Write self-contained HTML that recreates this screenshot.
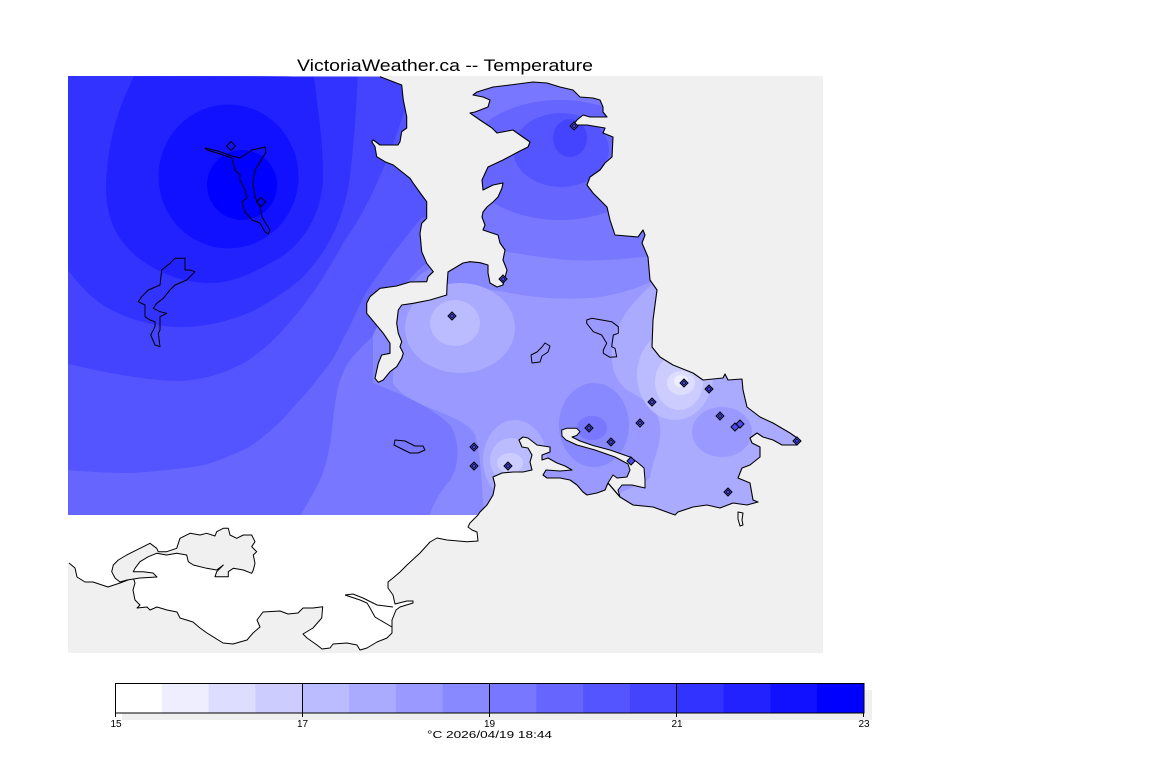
<!DOCTYPE html>
<html><head><meta charset="utf-8"><style>
html,body{margin:0;padding:0;background:#fff;}
svg{display:block;}
text{font-family:"Liberation Sans",sans-serif;}
</style></head><body>
<svg width="1152" height="768" viewBox="0 0 1152 768" xmlns="http://www.w3.org/2000/svg">
<defs>
<clipPath id="land"><path d="M68,76 L380,76.7 L401.7,85 L403.3,100 L406.7,116.7 L406.7,128 L401.7,131.7 L400,141.7 L398,145 L380,145 L373.3,140 L371.7,141.7 L375,146.7 L376.7,156.7 L385,161.7 L393.3,165 L410,178.3 L413.3,183.3 L421.7,195 L426.7,201.7 L426.7,218.3 L421.7,223.3 L420,233.3 L421.7,251.7 L426.7,263.3 L433.3,271.7 L428,276.7 L426.7,281.7 L410,282 L396.7,286 L380,288.3 L370,296.7 L366.7,303.3 L366.7,313.3 L375,323.3 L383.3,333.3 L390,343.3 L390,353.3 L381.7,355 L378.3,363.3 L375,378.3 L378.3,382.3 L383.3,380 L390,371.7 L396.7,366.7 L401.7,358.3 L403.3,353.3 L400,346.7 L401.7,341.7 L398.3,333.3 L396.7,323.3 L398.3,310 L401.7,305 L413.3,303.3 L430,300 L446.7,295 L447,286 L448,272 L463,263 L470,261.7 L480,262.7 L488,265 L488,273 L490,283 L497,287 L503,285 L507,270 L503,260 L505,250 L500,243 L498,235 L483,230 L485,225 L482,217 L483,212 L487,207 L493,202 L498,197 L502,188 L503,183 L493,185 L487,188 L483,190 L482,180 L488,167 L503,160 L518,152 L528,147 L530,142 L520,135 L513,130 L497,133 L492,128 L480,120 L470,113 L475,112 L488,107 L490,100 L483,97 L473,95 L477,92 L493,87 L510,85 L533,82 L547,83 L560,87 L573,90 L580,97 L593,98 L600,100 L603,107 L603,112 L607,117 L590,117 L583,115 L577,120 L573,125 L587,125 L605,128 L603,133 L613,137 L612,157 L605,163 L600,170 L590,177 L587,185 L593,193 L607,207 L610,220 L615,235 L638,237 L643,230 L645,235 L642,243 L648,257 L650,280 L657,290 L653,320 L652,347 L660,357 L673,365 L693,373 L703,380 L723,378 L725,374 L728,380 L742,379 L743,390 L747,407 L760,417 L773,423 L790,433 L800,440 L797,445 L782,445 L773,440 L763,437 L757,433 L750,438 L752,443 L760,447 L760,457 L750,465 L742,468 L738,478 L750,483 L753,500 L758,502 L747,505 L733,503 L720,508 L707,505 L693,507 L678,512 L675,515 L653,507 L633,505 L620,497 L614,490 L608,483 L605,490 L597,493 L587,495 L583,492 L577,485 L570,480 L560,478 L547,478 L543,475 L546,470 L560,471 L572,470 L565,466 L557,463 L548,458 L542,460 L542,455 L550,452 L550,447 L537,445 L528,438 L523,437 L519,440 L522,447 L528,448 L532,455 L530,462 L532,470 L523,472 L513,472 L502,473 L493,477 L495,485 L493,495 L487,505 L480,512 L478,515 L68,515 Z"/></clipPath>
</defs>
<rect width="1152" height="768" fill="#fff"/>
<text x="297" y="71" font-size="17" textLength="296" lengthAdjust="spacingAndGlyphs" fill="#000">VictoriaWeather.ca -- Temperature</text>
<rect x="68" y="76" width="755" height="577" fill="#f0f0f0"/>
<g clip-path="url(#land)">
<rect x="60" y="70" width="770" height="460" fill="#9999ff"/>
<path fill="#8888ff" d="M60,70 L665,70 L665,275 C640,288 615,296 590,298 C560,300 530,297 505,292 L460,285 L420,298 L393,310 L393,383 C400,395 415,402 435,410 C455,418 470,425 475,435 C480,450 482,480 484,520 L60,520 Z"/>
<path fill="#7777ff" d="M60,70 L665,70 L665,255 C630,258 600,262 570,260 C540,258 510,252 485,248 L445,258 L420,275 L373,320 L373,383 C395,392 430,405 450,425 C460,440 460,465 450,480 C440,492 432,505 428,520 L60,520 Z"/>
<path fill="#6666ff" d="M60,70 L440,70 L440,258 L427,263 C410,275 390,300 372,337 C360,348 348,360 342,375 C336,390 334,410 332,430 C330,450 326,465 320,480 C313,495 305,507 298,520 L60,520 Z"/>
<ellipse cx="560" cy="160" rx="95" ry="60" fill="#6666ff"/>
<path fill="#5555ff" d="M60,70 L445,70 L445,214 L421,218 C408,235 395,250 385,265 C375,280 365,292 360,305 C353,318 350,328 345,335 C338,350 333,360 325,370 C315,382 308,392 300,400 C290,410 283,420 277,425 C265,435 255,445 243,450 C225,458 210,465 193,467 C170,470 140,473 127,473 C105,473 85,471 60,470 Z"/>
<ellipse cx="561" cy="150" rx="48" ry="37" fill="#5555ff"/>
<path fill="#4444ff" d="M60,70 L440,70 L440,100 L405,110 C398,130 390,155 380,176 C370,200 358,222 345,240 C335,258 318,288 300,310 C285,328 265,352 240,365 C220,375 200,380 180,381 C150,381 110,374 60,362 Z"/>
<ellipse cx="570" cy="138" rx="17" ry="19" fill="#4444ff"/>
<path fill="#3333ff" d="M60,70 L358,70 C356,120 353,150 350,176 C345,215 330,250 300,280 C285,292 270,302 255,310 C230,322 200,328 175,327 C140,325 105,312 85,290 C75,280 70,272 60,262 Z"/>
<path fill="#2222ff" d="M137,70 L313,70 C318,110 323,140 323,176 C323,215 300,250 270,263 C250,275 230,283 210,283 C170,283 130,260 115,230 C105,210 105,185 107,170 C110,130 122,100 137,70 Z"/>
<ellipse cx="228.5" cy="176.5" rx="70" ry="72" fill="#1111ff"/>
<ellipse cx="242" cy="185" rx="35" ry="35" fill="#0000ff"/>
<ellipse cx="460" cy="328" rx="55" ry="45" fill="#aaaaff"/>
<ellipse cx="455" cy="323" rx="25" ry="23" fill="#bbbbff"/>
<path fill="#aaaaff" d="M657,280 C640,295 622,312 615,335 C608,358 612,378 627,390 C645,400 657,408 660,425 C662,445 652,462 650,478 C640,485 625,490 615,495 L615,520 L810,520 L810,280 Z"/>
<ellipse cx="722" cy="432" rx="30" ry="25" fill="#9999ff"/>
<ellipse cx="675" cy="375" rx="38" ry="45" fill="#bbbbff"/>
<ellipse cx="679" cy="382" rx="24" ry="28" fill="#ccccff"/>
<ellipse cx="681" cy="383" rx="14" ry="12" fill="#ddddff"/>
<ellipse cx="681" cy="381" rx="7" ry="6" fill="#eeeeff"/>
<ellipse cx="515" cy="460" rx="32" ry="40" fill="#aaaaff"/>
<ellipse cx="511" cy="460" rx="21" ry="22" fill="#bbbbff"/>
<ellipse cx="510" cy="463" rx="13" ry="10" fill="#ccccff"/>
<ellipse cx="594" cy="425" rx="35" ry="42" fill="#8888ff"/>
<ellipse cx="592" cy="428" rx="15" ry="12" fill="#7777ff"/>
</g>
<path fill="#f0f0f0" stroke="#000" stroke-width="1" stroke-linejoin="round" d="M608,483 L613,475 L617,478 L627,477 L630,470 L628,464 L615,457 L595,450 L577,445 L566,440 L562,436 L561.7,430 L566.7,428.3 L576.7,428.3 L580,431.7 L576.7,435.5 L572,437 L580,441 L593,445.5 L610,450 L630,457 L637,462 L644,468 L645,480 L645,488 L632,485 L622,485 L618,490 L620,497 L614,490 Z"/>
<path fill="none" stroke="#000" stroke-width="1.1" stroke-linejoin="round" d="M380,76.7 L401.7,85 L403.3,100 L406.7,116.7 L406.7,128 L401.7,131.7 L400,141.7 L398,145 L380,145 L373.3,140 L371.7,141.7 L375,146.7 L376.7,156.7 L385,161.7 L393.3,165 L410,178.3 L413.3,183.3 L421.7,195 L426.7,201.7 L426.7,218.3 L421.7,223.3 L420,233.3 L421.7,251.7 L426.7,263.3 L433.3,271.7 L428,276.7 L426.7,281.7 L410,282 L396.7,286 L380,288.3 L370,296.7 L366.7,303.3 L366.7,313.3 L375,323.3 L383.3,333.3 L390,343.3 L390,353.3 L381.7,355 L378.3,363.3 L375,378.3 L378.3,382.3 L383.3,380 L390,371.7 L396.7,366.7 L401.7,358.3 L403.3,353.3 L400,346.7 L401.7,341.7 L398.3,333.3 L396.7,323.3 L398.3,310 L401.7,305 L413.3,303.3 L430,300 L446.7,295 L447,286 L448,272 L463,263 L470,261.7 L480,262.7 L488,265 L488,273 L490,283 L497,287 L503,285 L507,270 L503,260 L505,250 L500,243 L498,235 L483,230 L485,225 L482,217 L483,212 L487,207 L493,202 L498,197 L502,188 L503,183 L493,185 L487,188 L483,190 L482,180 L488,167 L503,160 L518,152 L528,147 L530,142 L520,135 L513,130 L497,133 L492,128 L480,120 L470,113 L475,112 L488,107 L490,100 L483,97 L473,95 L477,92 L493,87 L510,85 L533,82 L547,83 L560,87 L573,90 L580,97 L593,98 L600,100 L603,107 L603,112 L607,117 L590,117 L583,115 L577,120 L573,125 L587,125 L605,128 L603,133 L613,137 L612,157 L605,163 L600,170 L590,177 L587,185 L593,193 L607,207 L610,220 L615,235 L638,237 L643,230 L645,235 L642,243 L648,257 L650,280 L657,290 L653,320 L652,347 L660,357 L673,365 L693,373 L703,380 L723,378 L725,374 L728,380 L742,379 L743,390 L747,407 L760,417 L773,423 L790,433 L800,440 L797,445 L782,445 L773,440 L763,437 L757,433 L750,438 L752,443 L760,447 L760,457 L750,465 L742,468 L738,478 L750,483 L753,500 L758,502 L747,505 L733,503 L720,508 L707,505 L693,507 L678,512 L675,515 L653,507 L633,505 L620,497 L614,490 L608,483 L605,490 L597,493 L587,495 L583,492 L577,485 L570,480 L560,478 L547,478 L543,475 L546,470 L560,471 L572,470 L565,466 L557,463 L548,458 L542,460 L542,455 L550,452 L550,447 L537,445 L528,438 L523,437 L519,440 L522,447 L528,448 L532,455 L530,462 L532,470 L523,472 L513,472 L502,473 L493,477 L495,485 L493,495 L487,505 L480,512 L478,515"/>
<g fill="none" stroke="#000" stroke-width="1" stroke-linejoin="round">
<path d="M205,148 L218,151 L232,156 L240,158 L252,150 L265,147 L266,152 L260,162 L255,170 L253,183 L255,197 L260,207 L262,217 L270,230 L268,234 L265,232 L260,223 L252,220 L245,212 L242,202 L247,198 L245,190 L240,180 L240,175 L235,170 L232,158 L217,153 L207,150 Z"/>
<path d="M175,258.3 L185,258.3 L185,270 L190,270 L195,271.7 L186.7,280 L175,285 L170,290 L163.3,298.3 L156.7,303.3 L153.3,308.3 L160,311.7 L166.7,313.3 L160,316.7 L160,330 L158.3,333.3 L160,346.7 L155,345 L150.7,335 L155,326.7 L155,321.7 L150,320 L145,316.7 L145,305 L138.3,301.7 L141.7,296.7 L148.3,290 L160,285 L161.7,270 L170,263.3 Z"/>
<path d="M395,440 L405,441 L415,446 L423,446 L425,450 L418,453 L410,453 L400,448 L394,445 Z"/>
<path d="M537,352 L542,347 L545,343 L550,346 L548,352 L542,356 L540,362 L532,363 L531,355 Z"/>
<path d="M586.7,320 L591.7,318.3 L611.7,321.7 L618.3,326.7 L618.3,333.3 L613.3,335 L611.7,346.7 L615,348.3 L616.7,356.7 L610,357.3 L603.3,353.3 L603.3,350 L606.7,343.3 L601.7,335 L593.3,331.7 L586.7,323.3 Z"/>
<path d="M738,512 L743,513 L742,520 L743,525 L740,526 L738,519 Z"/>
</g>
<path fill="#fff" d="M68,515 L478,515 L470,523 L468,527 L472,530 L477,532 L478,541 L467,541.7 L447,540 L437,538 L430,542 L420,553 L407,565 L400,572 L393,578 L388,582 L388,588 L393,595 L395,604 L407,601 L413,601 L413,603 L400,607 L396,610 L392,620 L392,627 L392,633 L387,638 L377,642 L367,648 L360,650 L357,645 L347,643 L333,644 L330,648 L322,649 L317,645 L307,638 L303,634 L313,628 L321.7,618 L322.7,606.7 L313,608 L303,608 L298,613 L288,614 L280,611 L263,612 L257,620 L260,627 L253,633 L247,640 L233,644 L223,643 L207,633 L200,628 L193,622 L180,618 L177,612 L167,610 L157,607 L150,610 L147,607 L137,608 L140,605 L135,600 L133,590 L135,583 L133,577 L128,580 L120,583 L108,587 L102,585 L93,582 L85,582 L77,577 L75,568 L69,563 L68,563 Z"/>
<path fill="none" stroke="#000" stroke-width="1" stroke-linejoin="round" d="M478,515 L470,523 L468,527 L472,530 L477,532 L478,541 L467,541.7 L447,540 L437,538 L430,542 L420,553 L407,565 L400,572 L393,578 L388,582 L388,588 L393,595 L395,604 L407,601 L413,601 L413,603 L400,607 L396,610 L392,620 L392,627 L392,633 L387,638 L377,642 L367,648 L360,650 L357,645 L347,643 L333,644 L330,648 L322,649 L317,645 L307,638 L303,634 L313,628 L321.7,618 L322.7,606.7 L313,608 L303,608 L298,613 L288,614 L280,611 L263,612 L257,620 L260,627 L253,633 L247,640 L233,644 L223,643 L207,633 L200,628 L193,622 L180,618 L177,612 L167,610 L157,607 L150,610 L147,607 L137,608 L140,605 L135,600 L133,590 L135,583 L133,577 L128,580 L120,583 L108,587 L102,585 L93,582 L85,582 L77,577 L75,568 L69,563"/>
<path fill="#f0f0f0" stroke="#000" stroke-width="1" stroke-linejoin="round" d="M111.7,571.7 L113.3,565 L118.3,560 L126.7,555 L140,548.3 L150,543.3 L156.7,548.3 L158.3,551.7 L166.7,551.7 L176.7,548.3 L180,538.3 L190,533.3 L200,535 L206.7,533.3 L215,536 L216.7,531.7 L223.3,528.3 L228.3,528.3 L230,535 L236.7,538.3 L243.3,535 L251.7,535 L255,541.7 L251.7,546.7 L256.7,551.7 L253.3,555 L255,563.3 L253.3,570 L251.7,573.3 L243.3,570 L233.3,568.3 L228.3,571.7 L228.3,576.7 L215,576.7 L216.7,571.7 L223.3,565 L216.7,570 L206.7,568.3 L193.3,565 L188.3,561.7 L186.7,555 L176.7,553.3 L166.7,555 L156.7,553.3 L148.3,556.7 L140,561.7 L135,568.3 L133.3,571.7 L143,571.7 L153,573 L157,577 L140,578 L127,580 L120,582 L115,578 Z"/>
<path fill="none" stroke="#000" stroke-width="1" d="M345,595 L353,594 L363,598 L377,605 L393,607 M345,595 L360,600 L367,603 L370,608 L375,617 L380,620 L392,627"/>
<g stroke="#000" stroke-width="1">
<polygon fill="none" points="231,141.5 235.5,146 231,150.5 226.5,146"/>
<polygon fill="none" points="261,197.5 265.5,202 261,206.5 256.5,202"/>
<g fill="#4b4bee">
<polygon points="574,122 578,126 574,130 570,126"/>
<polygon points="503,275 507,279 503,283 499,279"/>
<polygon points="452,312 456,316 452,320 448,316"/>
<polygon points="684,379 688,383 684,387 680,383"/>
<polygon points="709,385 713,389 709,393 705,389"/>
<polygon points="652,398 656,402 652,406 648,402"/>
<polygon points="640,419 644,423 640,427 636,423"/>
<polygon points="589,424 593,428 589,432 585,428"/>
<polygon points="611,438 615,442 611,446 607,442"/>
<polygon points="720,412 724,416 720,420 716,416"/>
<polygon points="735,423 739,427 735,431 731,427"/>
<polygon points="740,420 744,424 740,428 736,424"/>
<polygon points="797,437 801,441 797,445 793,441"/>
<polygon points="728,488 732,492 728,496 724,492"/>
<polygon points="474,443 478,447 474,451 470,447"/>
<polygon points="474,462 478,466 474,470 470,466"/>
<polygon points="508,462 512,466 508,470 504,466"/>
<polygon points="631,457 635,461 631,465 627,461"/>
</g>
<g fill="none" stroke-width="0.6">
<polygon points="574,124 576,126 574,128 572,126"/>
<polygon points="503,277 505,279 503,281 501,279"/>
<polygon points="452,314 454,316 452,318 450,316"/>
<polygon points="684,381 686,383 684,385 682,383"/>
<polygon points="709,387 711,389 709,391 707,389"/>
<polygon points="652,400 654,402 652,404 650,402"/>
<polygon points="640,421 642,423 640,425 638,423"/>
<polygon points="589,426 591,428 589,430 587,428"/>
<polygon points="611,440 613,442 611,444 609,442"/>
<polygon points="720,414 722,416 720,418 718,416"/>
<polygon points="797,439 799,441 797,443 795,441"/>
<polygon points="728,490 730,492 728,494 726,492"/>
<polygon points="474,445 476,447 474,449 472,447"/>
<polygon points="474,464 476,466 474,468 472,466"/>
<polygon points="508,464 510,466 508,468 506,466"/>
</g>
</g>
<rect x="122" y="690" width="750" height="30" fill="#efefef"/>
<g>
<rect x="115" y="683" width="47.3" height="30" fill="#ffffff"/>
<rect x="161.8" y="683" width="47.3" height="30" fill="#eeeeff"/>
<rect x="208.6" y="683" width="47.3" height="30" fill="#ddddff"/>
<rect x="255.4" y="683" width="47.3" height="30" fill="#ccccff"/>
<rect x="302.3" y="683" width="47.3" height="30" fill="#bbbbff"/>
<rect x="349.1" y="683" width="47.3" height="30" fill="#aaaaff"/>
<rect x="395.9" y="683" width="47.3" height="30" fill="#9999ff"/>
<rect x="442.7" y="683" width="47.3" height="30" fill="#8888ff"/>
<rect x="489.5" y="683" width="47.3" height="30" fill="#7777ff"/>
<rect x="536.3" y="683" width="47.3" height="30" fill="#6666ff"/>
<rect x="583.1" y="683" width="47.3" height="30" fill="#5555ff"/>
<rect x="629.9" y="683" width="47.3" height="30" fill="#4444ff"/>
<rect x="676.8" y="683" width="47.3" height="30" fill="#3333ff"/>
<rect x="723.6" y="683" width="47.3" height="30" fill="#2222ff"/>
<rect x="770.4" y="683" width="47.3" height="30" fill="#1111ff"/>
<rect x="817.2" y="683" width="46.8" height="30" fill="#0000ff"/>
</g>
<rect x="115.5" y="683.5" width="748.5" height="29.5" fill="none" stroke="#000" stroke-width="1"/>
<path stroke="#000" stroke-width="1" fill="none" d="M302.5,683 V713 M489.5,683 V713 M676.5,683 V713 M115.5,713 V717 M302.5,713 V717 M489.5,713 V717 M676.5,713 V717 M863.5,713 V717"/>
<g font-size="10" fill="#000" text-anchor="middle">
<text x="116" y="727">15</text>
<text x="302.5" y="727">17</text>
<text x="489.5" y="727">19</text>
<text x="677" y="727">21</text>
<text x="864" y="727">23</text>
</g>
<text x="427" y="738" font-size="10" fill="#000" textLength="125" lengthAdjust="spacingAndGlyphs">°C  2026/04/19 18:44</text>
</svg>
</body></html>
